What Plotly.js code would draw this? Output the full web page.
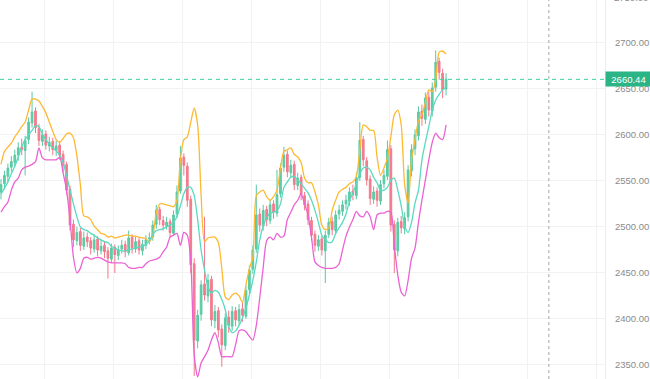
<!DOCTYPE html>
<html>
<head>
<meta charset="utf-8">
<script src="https://cdn.plot.ly/plotly-3.0.1.min.js"></script>
<style>html,body{margin:0;padding:0;background:#fff;}#chart{width:650px;height:379px;}</style>
</head>
<body>
<div id="chart"></div>
<script>
// ---- Data ----
const opens = [
 2538,2547,2555,2565,2570,2578,2587,2583,2595,2613,
 2626,2607,2593,2601,2588,2593,2583,2589,2579,2568,
 2541,2503,2485,2495,2479,2489,2485,2476,2487,2474,
 2480,2474,2465,2478,2469,2476,2481,2472,2489,2476,
 2485,2474,2480,2487,2489,2503,2519,2507,2501,2506,
 2493,2514,2539,2576,2566,2530,2460,2376,2405,2438,
 2425,2443,2398,2409,2389,2371,2402,2392,2409,2398,
 2411,2403,2432,2454,2476,2514,2501,2519,2507,2525,
 2515,2536,2565,2579,2559,2568,2545,2554,2534,2525,
 2507,2492,2479,2487,2474,2492,2506,2496,2514,2517,
 2525,2528,2539,2534,2554,2595,2572,2552,2530,2539,
 2528,2547,2555,2585,2503,2474,2506,2498,2511,2561,
 2585,2599,2626,2617,2641,2626,2652,2680,2667,2650];
const highs = [
 2552,2561,2569,2577,2584,2592,2596,2599,2619,2647,
 2630,2612,2606,2605,2598,2597,2594,2593,2583,2571,
 2545,2508,2500,2499,2495,2494,2489,2492,2490,2486,
 2484,2478,2482,2481,2480,2486,2485,2496,2492,2489,
 2488,2486,2491,2494,2507,2524,2522,2512,2511,2509,
 2518,2545,2588,2580,2570,2534,2466,2410,2442,2511,
 2449,2447,2415,2413,2394,2406,2409,2414,2413,2416,
 2418,2436,2458,2480,2546,2520,2524,2523,2530,2529,
 2562,2569,2587,2583,2573,2572,2559,2557,2538,2529,
 2511,2496,2491,2490,2496,2510,2511,2518,2524,2529,
 2535,2543,2546,2559,2614,2599,2576,2556,2544,2543,
 2551,2562,2594,2589,2507,2510,2512,2516,2567,2590,
 2606,2631,2633,2646,2647,2657,2692,2684,2672,2667];
const lows = [
 2530,2541,2549,2560,2566,2572,2578,2556,2590,2608,
 2602,2588,2588,2584,2582,2578,2577,2573,2560,2535,
 2496,2478,2480,2474,2475,2478,2470,2472,2468,2470,
 2466,2444,2461,2450,2464,2471,2467,2469,2471,2472,
 2470,2469,2476,2481,2485,2498,2502,2496,2497,2488,
 2490,2510,2536,2556,2522,2450,2338,2368,2398,2420,
 2418,2392,2390,2380,2348,2366,2385,2387,2392,2394,
 2397,2400,2427,2449,2472,2495,2496,2501,2503,2509,
 2511,2532,2560,2554,2553,2540,2540,2529,2518,2502,
 2485,2473,2474,2469,2439,2488,2491,2492,2508,2512,
 2519,2523,2529,2530,2550,2566,2545,2524,2525,2522,
 2524,2542,2551,2495,2450,2468,2493,2492,2506,2555,
 2578,2594,2610,2612,2620,2620,2647,2660,2640,2643];
const closes = [
 2546,2556,2564,2571,2578,2586,2584,2594,2614,2625,
 2608,2594,2600,2589,2592,2584,2588,2578,2567,2540,
 2502,2486,2494,2480,2488,2484,2477,2486,2475,2479,
 2473,2466,2477,2470,2475,2480,2473,2488,2477,2484,
 2475,2481,2486,2488,2502,2518,2508,2502,2505,2494,
 2513,2538,2575,2567,2529,2459,2377,2404,2437,2426,
 2442,2399,2408,2388,2372,2401,2393,2408,2399,2410,
 2404,2431,2453,2475,2513,2502,2518,2508,2524,2516,
 2535,2564,2578,2560,2567,2546,2553,2535,2524,2508,
 2491,2480,2486,2475,2491,2505,2497,2513,2518,2524,
 2529,2538,2535,2553,2594,2573,2551,2531,2538,2529,
 2546,2556,2584,2502,2475,2505,2499,2510,2562,2584,
 2600,2625,2618,2640,2627,2651,2679,2668,2649,2660.44];
const upperBand = [
 2568,2582,2587,2591,2598,2603,2609,2614,2627,2639,
 2639,2637,2631,2624,2614,2604,2595,2592,2596,2601,
 2602,2597,2577,2546,2512,2511,2508,2501,2497,2493,
 2492,2489,2490,2488,2489,2490,2491,2491,2490,2490,
 2489,2488,2487,2484,2491,2515,2525,2525,2524,2523,
 2522,2529,2573,2595,2598,2614,2629,2611,2535,2484,
 2488,2489,2489,2483,2455,2424,2421,2426,2428,2425,
 2418,2437,2455,2467,2534,2538,2540,2533,2529,2533,
 2540,2564,2582,2584,2586,2579,2576,2570,2553,2548,
 2548,2538,2524,2502,2497,2499,2518,2529,2538,2541,
 2543,2547,2549,2555,2584,2611,2609,2605,2605,2576,
 2556,2564,2575,2598,2622,2627,2611,2546,2526,2573,
 2595,2615,2622,2635,2649,2647,2660,2690,2691,2688];
const middleBand = [
 2536,2542,2549,2558,2566,2576,2587,2595,2600,2605,
 2610,2609,2601,2595,2590,2586,2583,2578,2570,2556,
 2540,2525,2511,2500,2497,2496,2493,2491,2488,2486,
 2484,2483,2479,2477,2475,2474,2474,2475,2476,2477,
 2478,2479,2481,2485,2492,2496,2497,2498,2500,2502,
 2505,2511,2523,2536,2543,2543,2534,2508,2475,2453,
 2435,2428,2431,2429,2421,2410,2392,2385,2387,2393,
 2401,2412,2426,2442,2462,2486,2501,2510,2515,2516,
 2518,2525,2543,2549,2554,2555,2551,2547,2542,2537,
 2529,2518,2505,2491,2486,2483,2484,2493,2499,2505,
 2514,2528,2537,2547,2558,2564,2565,2562,2554,2548,
 2540,2540,2543,2551,2553,2540,2523,2501,2494,2505,
 2526,2540,2573,2592,2609,2627,2638,2644,2649,2652];
const lowerBand = [
 2516,2522,2527,2540,2549,2553,2562,2565,2566,2568,
 2571,2586,2575,2573,2573,2573,2573,2576,2559,2540,
 2508,2467,2450,2455,2466,2467,2465,2466,2467,2466,
 2464,2462,2461,2461,2461,2461,2460,2456,2455,2455,
 2456,2456,2460,2463,2464,2465,2467,2473,2478,2489,
 2491,2493,2480,2494,2491,2464,2361,2337,2352,2359,
 2366,2377,2385,2374,2359,2359,2359,2359,2372,2387,
 2388,2386,2381,2377,2393,2423,2456,2485,2489,2486,
 2493,2489,2490,2508,2516,2524,2529,2536,2525,2513,
 2489,2462,2458,2456,2455,2455,2455,2456,2460,2475,
 2490,2500,2508,2517,2512,2511,2517,2511,2497,2513,
 2515,2515,2517,2516,2480,2448,2429,2425,2442,2466,
 2477,2505,2529,2551,2573,2592,2602,2597,2595,2611];
const lastPrice = 2660.44;
const yTicks = [2350, 2400, 2450, 2500, 2550, 2600, 2650, 2700, 2750];
const cursorIndex = 158.8;

// ---- Chart ----
const idx = closes.map((_, i) => i);

const candles = {
  type: 'candlestick',
  x: idx, open: opens, high: highs, low: lows, close: closes,
  increasing: {line: {color: '#22b784', width: 1}, fillcolor: '#2cc08d'},
  decreasing: {line: {color: '#ee4d66', width: 1}, fillcolor: '#f0566e'},
  whiskerwidth: 0,
  opacity: 0.75,
  hoverinfo: 'none'
};
function band(y, color) {
  return {type: 'scatter', mode: 'lines', x: idx, y: y,
    line: {color: color, width: 1.3, shape: 'spline', smoothing: 0.7},
    hoverinfo: 'none'};
}
const traces = [
  candles,
  band(upperBand, '#fdb932'),
  band(middleBand, '#5ad9c1'),
  band(lowerBand, '#eb62d4')
];

const tickFont = {family: 'Liberation Sans, Arial, sans-serif', size: 9.5, color: '#8a8a8a'};

const layout = {
  width: 650, height: 379,
  margin: {l: 0, r: 45, t: 0, b: 0, pad: 0},
  paper_bgcolor: '#ffffff', plot_bgcolor: '#ffffff',
  showlegend: false,
  xaxis: {
    range: [-0.29, 175.07], showticklabels: false, ticks: '',
    showgrid: true, gridcolor: '#f2f2f2', gridwidth: 1,
    tick0: 12.5, dtick: 20, zeroline: false, showline: false,
    rangeslider: {visible: false}, fixedrange: true
  },
  yaxis: {
    side: 'right', range: [2334.7, 2746.7],
    tickmode: 'array', tickvals: yTicks, ticktext: yTicks.map(v => v.toFixed(2)),
    showgrid: true, gridcolor: '#f2f2f2', gridwidth: 1,
    zeroline: false, showline: true, linecolor: '#ededed', linewidth: 1,
    ticks: '', ticklabelstandoff: 7, tickfont: tickFont, fixedrange: true
  },
  shapes: [
    {type: 'line', xref: 'paper', yref: 'y', x0: 0, x1: 1, y0: lastPrice, y1: lastPrice,
     line: {color: '#3fcf9c', width: 1, dash: '4px,4px'}},
    {type: 'line', xref: 'x', yref: 'paper', x0: cursorIndex, x1: cursorIndex, y0: 0, y1: 1,
     line: {color: '#a3a3a3', width: 1, dash: '3px,3px'}}
  ],
  annotations: [
    {xref: 'paper', yref: 'paper', x: 1, y: 1 + 3 / 379, xanchor: 'left', yanchor: 'middle',
     xshift: 7, text: '2750.00', showarrow: false, font: tickFont},
    {xref: 'paper', yref: 'y', x: 1, y: lastPrice, xanchor: 'left', yanchor: 'middle',
     text: lastPrice.toFixed(2), showarrow: false, bgcolor: '#2bb587',
     font: {family: 'Liberation Sans, Arial, sans-serif', size: 9.5, color: '#ffffff'},
     width: 41, height: 10, borderpad: 2, align: 'center'}
  ]
};

Plotly.newPlot('chart', traces, layout, {displayModeBar: false, staticPlot: true});
</script>
</body>
</html>
